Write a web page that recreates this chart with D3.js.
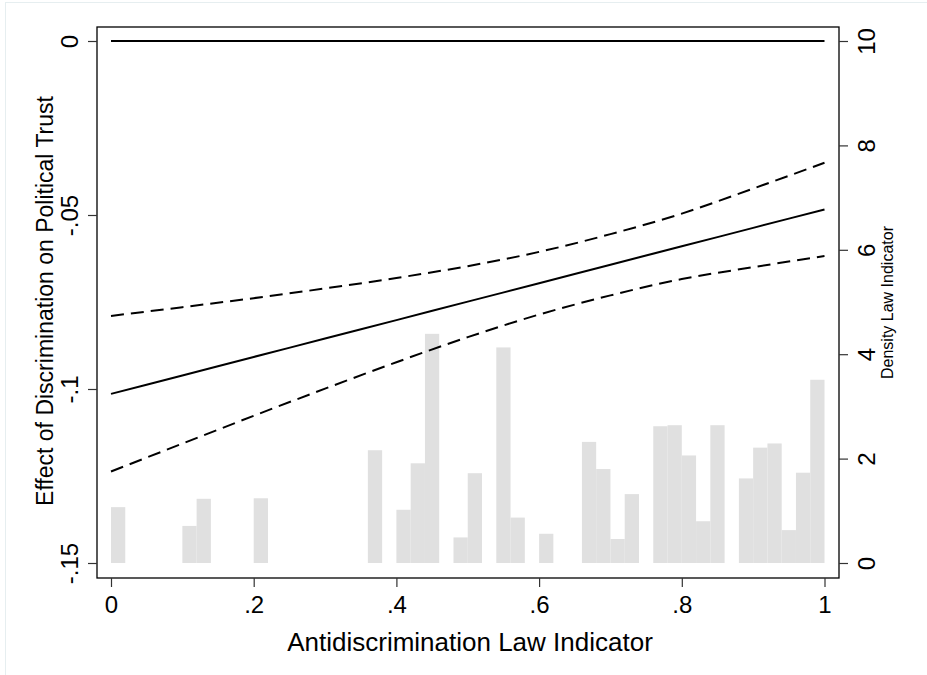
<!DOCTYPE html>
<html>
<head>
<meta charset="utf-8">
<script src="https://cdn.jsdelivr.net/npm/d3@7"></script>
<style>
  html, body { margin: 0; padding: 0; background: #ffffff; }
  svg { display: block; font-family: "Liberation Sans", Arial, sans-serif; }
</style>
</head>
<body>
<svg id="chart" width="927" height="675"></svg>
<script>
// ---- data ----
const xGrid      = [0, 0.1, 0.2, 0.3, 0.4, 0.5, 0.6, 0.7, 0.8, 0.9, 1.0];
const effect     = [-0.1014, -0.0961, -0.0908, -0.0855, -0.0802, -0.0749, -0.0696, -0.0643, -0.0590, -0.0537, -0.0484];
const upperCI    = [-0.0790, -0.0765, -0.0739, -0.0711, -0.0681, -0.0647, -0.0606, -0.0555, -0.0496, -0.0424, -0.0350];
const lowerCI    = [-0.1237, -0.1157, -0.1077, -0.0999, -0.0923, -0.0851, -0.0786, -0.0731, -0.0684, -0.0650, -0.0618];
const zeroLine   = [0, 0];
const zeroX      = [0, 1];

const binWidth   = 0.02;
const binStarts  = [0.00, 0.10, 0.12, 0.20, 0.36, 0.40, 0.42, 0.44, 0.48, 0.50, 0.54, 0.56, 0.60,
                    0.66, 0.68, 0.70, 0.72, 0.76, 0.78, 0.80, 0.82, 0.84, 0.88, 0.90, 0.92, 0.94, 0.96, 0.98];
const densities  = [1.07, 0.71, 1.23, 1.24, 2.16, 1.02, 1.91, 4.39, 0.49, 1.72, 4.13, 0.87, 0.56,
                    2.32, 1.80, 0.46, 1.32, 2.62, 2.64, 2.06, 0.80, 2.64, 1.62, 2.21, 2.29, 0.63, 1.73, 3.51];

const xTicks      = [0, 0.2, 0.4, 0.6, 0.8, 1];
const xTickLabels = ["0", ".2", ".4", ".6", ".8", "1"];
const yTicks      = [0, -0.05, -0.1, -0.15];
const yTickLabels = ["0", "-.05", "-.1", "-.15"];
const y2Ticks     = [0, 2, 4, 6, 8, 10];
const y2TickLabels= ["0", "2", "4", "6", "8", "10"];

const xTitle  = "Antidiscrimination Law Indicator";
const yTitle  = "Effect of Discrimination on Political Trust";
const y2Title = "Density Law Indicator";

// ---- layout ----
const svg = d3.select("#chart");
const frame = {left: 97, right: 839, top: 27, bottom: 578};
const FONT = "'Liberation Sans', Arial, sans-serif";

const x  = d3.scaleLinear().domain([0, 1]).range([111, 824.5]);
const y  = d3.scaleLinear().domain([-0.15, 0]).range([563, 41]);
const y2 = d3.scaleLinear().domain([0, 10]).range([563, 41]);

// outer graph region border
svg.append("rect")
  .attr("x", 5.5).attr("y", 2.5).attr("width", 940).attr("height", 700)
  .attr("fill", "#ffffff").attr("stroke", "#e6eef0").attr("stroke-width", 1);

// histogram bars
svg.append("g").selectAll("rect")
  .data(binStarts.map((b, i) => ({b, d: densities[i]})))
  .join("rect")
  .attr("x", d => x(d.b))
  .attr("width", d => x(d.b + binWidth) - x(d.b))
  .attr("y", d => y2(d.d))
  .attr("height", d => y2(0) - y2(d.d))
  .attr("fill", "#e0e0e0");

// lines
const line = d3.line().x(d => x(d[0])).y(d => y(d[1])).curve(d3.curveMonotoneX);

svg.append("path")
  .datum(zeroX.map((v, i) => [v, zeroLine[i]]))
  .attr("d", line).attr("fill", "none").attr("stroke", "#000").attr("stroke-width", 2.2);

svg.append("path")
  .datum(xGrid.map((v, i) => [v, effect[i]]))
  .attr("d", line).attr("fill", "none").attr("stroke", "#000").attr("stroke-width", 2);

[upperCI, lowerCI].forEach(arr => {
  svg.append("path")
    .datum(xGrid.map((v, i) => [v, arr[i]]))
    .attr("d", line).attr("fill", "none").attr("stroke", "#000")
    .attr("stroke-width", 2).attr("stroke-dasharray", "13,7");
});

// plot frame
svg.append("rect")
  .attr("x", frame.left).attr("y", frame.top)
  .attr("width", frame.right - frame.left).attr("height", frame.bottom - frame.top)
  .attr("fill", "none").attr("stroke", "#000").attr("stroke-width", 1.3);

// axes
const tfs = 24;
const xAxis = d3.axisBottom(x).tickValues(xTicks).tickFormat((d, i) => xTickLabels[i])
  .tickSize(9).tickPadding(5);
const gx = svg.append("g").attr("transform", `translate(0,${frame.bottom})`).call(xAxis);
gx.select(".domain").remove();
gx.selectAll("line").attr("stroke", "#333").attr("stroke-width", 1.2);
gx.selectAll("text").attr("font-size", tfs).attr("fill", "#000")
  .attr("font-family", FONT).attr("dy", null).attr("y", 35);

const yAxis = d3.axisLeft(y).tickValues(yTicks).tickFormat((d, i) => yTickLabels[i])
  .tickSize(9).tickPadding(0);
const gy = svg.append("g").attr("transform", `translate(${frame.left},0)`).call(yAxis);
gy.select(".domain").remove();
gy.selectAll("line").attr("stroke", "#333").attr("stroke-width", 1.2);
gy.selectAll("text")
  .attr("font-size", tfs).attr("fill", "#000")
  .attr("font-family", FONT)
  .attr("x", null).attr("dy", null)
  .attr("text-anchor", "middle")
  .attr("transform", "translate(-19,0) rotate(-90)");

const y2Axis = d3.axisRight(y2).tickValues(y2Ticks).tickFormat((d, i) => y2TickLabels[i])
  .tickSize(9).tickPadding(0);
const gy2 = svg.append("g").attr("transform", `translate(${frame.right},0)`).call(y2Axis);
gy2.select(".domain").remove();
gy2.selectAll("line").attr("stroke", "#333").attr("stroke-width", 1.2);
gy2.selectAll("text")
  .attr("font-size", tfs).attr("fill", "#000")
  .attr("font-family", FONT)
  .attr("x", null).attr("dy", null)
  .attr("text-anchor", "middle")
  .attr("transform", "translate(36,0) rotate(-90)");

// titles
svg.append("text")
  .attr("x", 470).attr("y", 651)
  .attr("text-anchor", "middle").attr("font-size", 26).attr("fill", "#000")
  .text(xTitle);

svg.append("text")
  .attr("transform", `translate(53,301) rotate(-90)`)
  .attr("text-anchor", "middle").attr("font-size", 23).attr("fill", "#000")
  .text(yTitle);

svg.append("text")
  .attr("transform", `translate(893,${(frame.top + frame.bottom) / 2}) rotate(-90)`)
  .attr("text-anchor", "middle").attr("font-size", 16).attr("fill", "#000")
  .text(y2Title);
</script>
</body>
</html>
